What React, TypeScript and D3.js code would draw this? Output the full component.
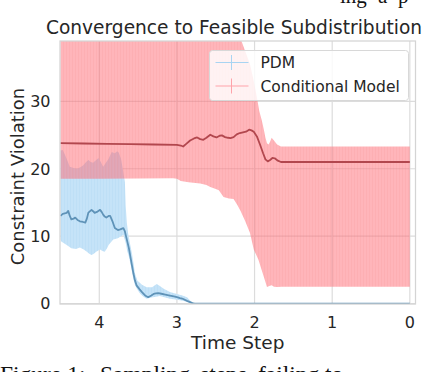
import React from "react";
import * as d3 from "d3";

// ---- data (x = time step, y = constraint violation) ----
const xTicks = [4, 3, 2, 1, 0];
const yTicks = [0, 10, 20, 30];

const pdmMean: [number, number][] = [
  [4.5, 13.0], [4.47, 13.3], [4.42, 13.45], [4.4, 13.75], [4.38, 13.0], [4.36, 12.5],
  [4.33, 12.6], [4.31, 12.75], [4.28, 12.4], [4.25, 12.2], [4.21, 12.1], [4.18, 12.0],
  [4.16, 12.6], [4.14, 13.5], [4.1, 13.9], [4.08, 13.7], [4.06, 13.45], [4.03, 13.6],
  [3.99, 13.9], [3.97, 13.6], [3.95, 13.2], [3.93, 12.9], [3.91, 12.75], [3.88, 13.0],
  [3.86, 13.0], [3.83, 12.2], [3.8, 11.2], [3.76, 10.9], [3.73, 11.0], [3.69, 11.2],
  [3.67, 10.7], [3.65, 9.7], [3.62, 8.3], [3.6, 7.0], [3.58, 5.7], [3.56, 4.45],
  [3.54, 3.4], [3.52, 2.7], [3.48, 2.1], [3.45, 1.7], [3.41, 1.2], [3.37, 0.94],
  [3.33, 1.2], [3.3, 1.43], [3.27, 1.5], [3.24, 1.54], [3.2, 1.45], [3.15, 1.33],
  [3.09, 1.18], [3.04, 1.05], [3.0, 0.94], [2.96, 0.8], [2.92, 0.68], [2.87, 0.4],
  [2.83, 0.2], [2.8, 0.05], [2.77, 0], [0, 0],
];

const pdmUpper: [number, number][] = [
  [4.5, 22.7], [4.47, 22.8], [4.44, 22.0], [4.42, 21.5], [4.38, 20.3], [4.33, 20.1],
  [4.29, 20.0], [4.25, 20.2], [4.21, 20.5], [4.17, 21.0], [4.14, 21.3], [4.11, 21.0],
  [4.08, 20.9], [4.04, 21.3], [4.01, 21.6], [3.98, 21.0], [3.95, 20.3], [3.92, 20.8],
  [3.88, 21.5], [3.84, 22.5], [3.8, 22.3], [3.77, 22.6], [3.75, 22.4], [3.72, 21.5],
  [3.69, 19.5], [3.67, 18.0], [3.66, 14.5], [3.645, 12.0], [3.63, 10.5], [3.6, 8.6],
  [3.58, 7.5], [3.56, 6.0], [3.54, 4.45], [3.51, 3.4], [3.45, 2.8], [3.39, 2.4],
  [3.32, 2.4], [3.26, 2.9], [3.22, 2.6], [3.17, 2.2], [3.09, 1.7], [3.0, 1.43],
  [2.93, 1.2], [2.87, 0.94], [2.81, 0.2], [2.78, 0], [0, 0],
];

const pdmLower: [number, number][] = [
  [4.5, 9.5], [4.49, 9.2], [4.45, 8.9], [4.42, 8.7], [4.36, 8.2], [4.3, 8.1],
  [4.25, 8.3], [4.2, 8.0], [4.16, 7.7], [4.13, 7.4], [4.1, 7.2], [4.07, 7.4],
  [4.04, 7.7], [3.99, 8.0], [3.96, 7.8], [3.93, 7.7], [3.9, 8.2], [3.88, 8.7],
  [3.85, 9.1], [3.82, 9.5], [3.76, 9.7], [3.72, 10.0], [3.69, 10.2], [3.66, 9.0],
  [3.64, 7.8], [3.62, 7.0], [3.6, 6.0], [3.58, 4.8], [3.56, 3.6], [3.54, 2.7],
  [3.5, 1.9], [3.47, 1.4], [3.43, 1.0], [3.39, 0.7], [3.33, 0.9], [3.27, 1.0],
  [3.22, 1.1], [3.15, 0.9], [3.09, 0.7], [3.02, 0.6], [2.96, 0.5], [2.88, 0.3],
  [2.83, 0.05], [2.8, 0], [0, 0],
];

const condMean: [number, number][] = [
  [4.5, 23.8], [4.2, 23.75], [3.9, 23.7], [3.6, 23.65], [3.3, 23.6], [3.0, 23.55],
  [2.95, 23.45], [2.92, 23.3], [2.88, 23.7], [2.83, 24.2], [2.78, 24.5], [2.74, 24.65],
  [2.7, 24.4], [2.66, 24.3], [2.62, 24.6], [2.57, 25.05], [2.53, 24.8], [2.49, 24.65],
  [2.45, 24.9], [2.42, 24.95], [2.38, 24.7], [2.34, 24.6], [2.31, 24.55], [2.27, 24.7],
  [2.23, 25.1], [2.19, 25.3], [2.15, 25.4], [2.11, 25.5], [2.07, 25.8], [2.04, 25.7],
  [2.01, 25.5], [1.97, 24.8], [1.93, 23.6], [1.89, 22.3], [1.86, 21.4], [1.83, 21.1],
  [1.8, 21.3], [1.77, 21.6], [1.74, 21.55], [1.7, 21.2], [1.66, 21.0], [1.6, 21.0],
  [1.0, 21.0], [0.5, 21.0], [0, 21.0],
];

const condUpper: [number, number][] = [
  [4.5, 45], [2.3, 45], [2.24, 41], [2.17, 39], [2.1, 36.8], [2.06, 35.6], [2.01, 33],
  [1.97, 30.6], [1.94, 28.6], [1.905, 27.1], [1.88, 25.8], [1.86, 24.6], [1.84, 23.8],
  [1.82, 23.6], [1.8, 24.0], [1.78, 24.6], [1.75, 24.2], [1.71, 23.6], [1.66, 23.3],
  [0, 23.3],
];

const condLower: [number, number][] = [
  [4.5, 18.5], [4.0, 18.5], [3.5, 18.55], [3.05, 18.6], [3.0, 18.5], [2.95, 18.2],
  [2.85, 18.0], [2.7, 17.8], [2.62, 17.6], [2.57, 17.3], [2.5, 17.0], [2.46, 16.8],
  [2.4, 15.8], [2.33, 15.6], [2.27, 15.5], [2.22, 14.6], [2.18, 13.75], [2.12, 12.2],
  [2.06, 10.5], [2.01, 8.0], [1.95, 6.5], [1.92, 5.4], [1.88, 3.95], [1.84, 2.44],
  [1.81, 2.6], [1.78, 2.7], [1.75, 2.5], [1.71, 2.44], [1.65, 2.5], [0, 2.5],
];

const seriesNames = ["PDM", "Conditional Model"];

// page text fragments above and below the figure (justified words)
const topWords = ["ing", "a", "p"];
const captionWords = ["Figure 1:", "Sampling", "steps", "failing", "to"];

// ---- layout ----
const W = 432;
const H = 372;
const plot = { left: 60, right: 415.5, top: 41, bottom: 304 };
const FONT = "'DejaVu Sans', sans-serif";
const SERIF = "'Liberation Serif', 'Times New Roman', serif";
const TEXT = "#262626";

export default function App() {
  const x = d3.scaleLinear().domain([4.506, -0.073]).range([plot.left, plot.right]);
  const y = d3.scaleLinear().domain([-0.07, 38.96]).range([plot.bottom, plot.top]);
  const line = d3
    .line<[number, number]>()
    .x((d) => x(d[0]))
    .y((d) => y(d[1]));
  const band = (up: [number, number][], lo: [number, number][]) =>
    (line([...up, ...lo.slice().reverse()]) || "") + "Z";

  const legendX = 209.5;
  const legendY = 50.5;
  const topWordX = [340, 378, 398];
  const captionX = [0, 100, 200, 258, 325];

  return (
    <svg
      width={W}
      height={H}
      style={{ position: "fixed", left: 0, top: 0, background: "#fff" }}
      fontFamily={FONT}
    >
      <rect x={0} y={0} width={W} height={H} fill="#fff" />
      {/* page text fragments */}
      {topWords.map((w, i) => (
        <text key={w} x={topWordX[i]} y={3} fontFamily={SERIF} fontSize={21} fill="#111">
          {w}
        </text>
      ))}
      {captionWords.map((w, i) => (
        <text key={w} x={captionX[i]} y={382} fontFamily={SERIF} fontSize={23.5} fill="#111">
          {w}
        </text>
      ))}

      <defs>
        <clipPath id="plotclip">
          <rect x={plot.left} y={plot.top} width={plot.right - plot.left} height={plot.bottom - plot.top} />
        </clipPath>
        <pattern id="redStripes" width={3} height={10} patternUnits="userSpaceOnUse">
          <rect x={0} y={0} width={3} height={10} fill="#ff6b76" fillOpacity={0.5} />
          <rect x={0} y={0} width={1} height={10} fill="#e0606a" fillOpacity={0.08} />
        </pattern>
        <pattern id="blueStripes" width={3} height={10} patternUnits="userSpaceOnUse">
          <rect x={0} y={0} width={3} height={10} fill="#c5e3f8" />
          <rect x={1} y={0} width={1} height={10} fill="#a9d3f0" fillOpacity={0.25} />
        </pattern>
      </defs>

      {/* grid */}
      {xTicks.map((t) => (
        <line key={"gx" + t} x1={x(t)} x2={x(t)} y1={plot.top} y2={plot.bottom} stroke="#dcdcdc" strokeWidth={1.2} />
      ))}
      {yTicks.map((t) => (
        <line key={"gy" + t} x1={plot.left} x2={plot.right} y1={y(t)} y2={y(t)} stroke="#dcdcdc" strokeWidth={1.2} />
      ))}

      <g clipPath="url(#plotclip)">
        <path d={band(pdmUpper, pdmLower)} fill="url(#blueStripes)" />
        <path d={band(condUpper, condLower)} fill="url(#redStripes)" />
        <path d={line(pdmMean) || ""} fill="none" stroke="#5f93b8" strokeWidth={1.8} strokeLinejoin="round" />
        <path d={line(condMean) || ""} fill="none" stroke="#b2474e" strokeWidth={1.8} strokeLinejoin="round" />
      </g>

      {/* frame */}
      <rect
        x={plot.left}
        y={plot.top}
        width={plot.right - plot.left}
        height={plot.bottom - plot.top}
        fill="none"
        stroke="#d4d4d4"
        strokeWidth={1.25}
      />

      {/* tick labels */}
      {xTicks.map((t) => (
        <text key={"tx" + t} x={x(t)} y={327.5} textAnchor="middle" fontSize={16} fill={TEXT}>
          {t}
        </text>
      ))}
      {yTicks.map((t) => (
        <text key={"ty" + t} x={50.5} y={y(t) + 5.8} textAnchor="end" fontSize={16} fill={TEXT}>
          {t}
        </text>
      ))}

      {/* labels */}
      <text x={234} y={34} textAnchor="middle" fontSize={18.6} fill={TEXT}>
        Convergence to Feasible Subdistribution
      </text>
      <text x={(plot.left + plot.right) / 2} y={349} textAnchor="middle" fontSize={18.5} fill={TEXT}>
        Time Step
      </text>
      <text
        transform={`translate(24, ${(plot.top + plot.bottom) / 2 + 4}) rotate(-90)`}
        textAnchor="middle"
        fontSize={18}
        fill={TEXT}
      >
        Constraint Violation
      </text>

      {/* legend */}
      <rect x={legendX} y={legendY} width={199} height={50} rx={3} fill="#fff" fillOpacity={0.82} stroke="#d8d8d8" strokeWidth={1} />
      {seriesNames.map((name, i) => {
        const cy = legendY + 12 + i * 23.5;
        const col = i === 0 ? "#a8d4f2" : "#ffa3aa";
        return (
          <g key={name}>
            <line x1={legendX + 6} x2={legendX + 39} y1={cy} y2={cy} stroke={col} strokeWidth={1} />
            <line x1={legendX + 22} x2={legendX + 22} y1={cy - 7.5} y2={cy + 7.5} stroke={col} strokeWidth={1} />
            <text x={legendX + 51} y={cy + 5.5} fontSize={15.5} fill={TEXT}>
              {name}
            </text>
          </g>
        );
      })}
    </svg>
  );
}
